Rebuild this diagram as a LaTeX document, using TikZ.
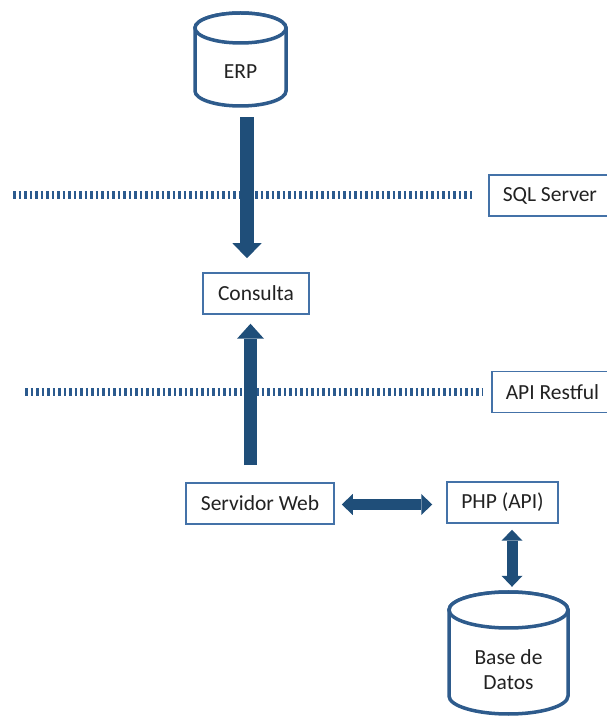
\documentclass[tikz,border=0pt]{standalone}
\usepackage{fontspec}
\setmainfont{Carlito}
\usetikzlibrary{arrows.meta}
\definecolor{arrowblue}{HTML}{1F4E79}
\definecolor{cylblue}{HTML}{2E5B8C}
\definecolor{boxblue}{HTML}{4472A8}
\definecolor{dotblue}{HTML}{2B5A8E}
\definecolor{txt}{HTML}{222222}
\tikzset{
  box/.style={draw=boxblue, line width=1.5pt, fill=white, text=txt,
    font=\fontsize{21.5}{25}\selectfont, minimum height=41pt, inner sep=0pt},
  sidebox/.style={box, anchor=west, inner xsep=14pt},
  dbarea/.style={inner sep=0pt},
  dbtext/.style={text=txt, font=\fontsize{21.5}{25}\selectfont, align=center, inner sep=0pt},
  cyl/.style={draw=cylblue, line width=3.5pt, fill=white},
  boundary/.style={draw=dotblue, line width=8pt, dash pattern=on 2.5pt off 3pt},
  flow/.style={draw=arrowblue, line width=14pt,
    -{Triangle[length=15pt,width=29pt,line width=0pt]}},
  flowb/.style={draw=arrowblue, line width=13pt,
    -{Triangle[length=15pt,width=27pt,line width=0pt]}},
  link/.style={draw=arrowblue, line width=11pt,
    {Triangle[length=11pt,width=21pt,line width=0pt]}-{Triangle[length=11pt,width=21pt,line width=0pt]}},
}
\begin{document}
\begin{tikzpicture}[x=1pt,y=1pt]
\useasboundingbox (0,0) rectangle (606,718);

% database cylinders
\draw[cyl] (195,690) -- (195,627) arc[start angle=180,end angle=360,x radius=45.5,y radius=15]
  -- (286,690) arc[start angle=0,end angle=180,x radius=45.5,y radius=15] -- cycle;
\draw[cyl] (240.5,690) ellipse[x radius=45.5,y radius=15];
\node[dbarea, minimum width=91pt, minimum height=93pt] (erp) at (240.5,658.5) {};
\node[dbtext] (erplabel) at (240.5,646) {ERP};

\draw[cyl] (449,108) -- (449,22) arc[start angle=180,end angle=360,x radius=59.5,y radius=18]
  -- (568,108) arc[start angle=0,end angle=180,x radius=59.5,y radius=18] -- cycle;
\draw[cyl] (508.5,108) ellipse[x radius=59.5,y radius=18];
\node[dbarea, minimum width=119pt, minimum height=122pt] (db) at (508.5,65) {};
\node[dbtext] (dblabel) at (508.5,48) {Base de\\Datos};

% boxes
\node[box, minimum width=106pt] (cons) at (256,424.5) {Consulta};
\node[box, minimum width=148pt] (web) at (260,214.5) {Servidor Web};
\node[box, minimum width=111pt] (php) at (502.5,215.5) {PHP (API)};
\node[sidebox] (sql) at (488,522.5) {SQL Server};
\node[sidebox] (rest) at (491,326) {API Restful};

% layer boundaries
\coordinate (sqlend) at ([xshift=-16pt]sql.west);
\coordinate (restend) at ([xshift=-8pt]rest.west);
\coordinate (sqlstart) at (13,0);
\coordinate (reststart) at (25,0);
\draw[boundary] (sqlstart |- sqlend) -- (sqlend);
\draw[boundary] (reststart |- restend) -- (restend);

% data flow
\draw[flow] ([xshift=6.5pt,yshift=-11pt]erp.south) -- ([xshift=-9pt,yshift=14pt]cons.north);
\draw[flowb] ([xshift=-9.5pt,yshift=17pt]web.north) -- ([xshift=-5.5pt,yshift=-9pt]cons.south);
\draw[link] ([xshift=7pt,yshift=-1pt]web.east) -- ([xshift=-14pt,yshift=-2pt]php.west);
\draw[link] ([xshift=9.5pt,yshift=-6pt]php.south) -- ([xshift=3.5pt,yshift=5pt]db.north);
\end{tikzpicture}
\end{document}
